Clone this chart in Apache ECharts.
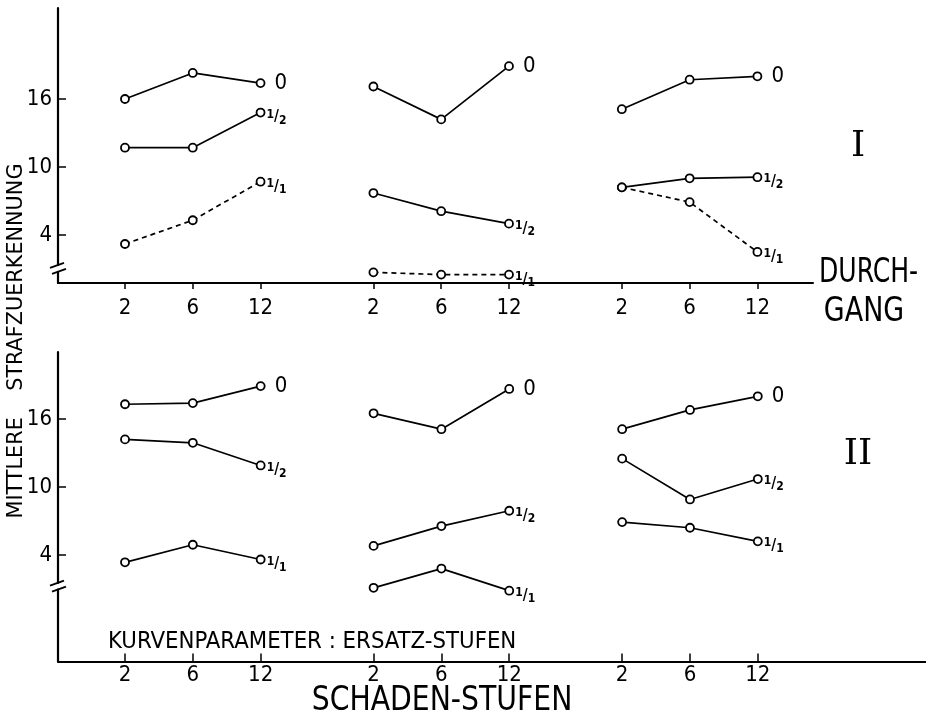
<!DOCTYPE html>
<html>
<head>
<meta charset="utf-8">
<script src="https://cdn.jsdelivr.net/npm/echarts@6/dist/echarts.min.js"></script>
<style>
html,body{margin:0;padding:0;background:#fff;}
#c{width:926px;height:723px;}
</style>
</head>
<body>
<div id="c"></div>
<script>
// ---- data ----
const schadenStufen = ['2', '6', '12'];          // x tick labels per group
const yTickValues = [4, 10, 16];                  // y tick labels
const curveNames = ['0', '1/2', '1/1'];           // Kurvenparameter: Ersatz-Stufen

// Durchgang I : one array per curve, one inner array per group (values at 2, 6, 12)
const durchgangI_0  = [[16.0, 18.3, 17.4], [17.1, 14.2, 18.9], [15.1, 17.7, 18.0]];
const durchgangI_12 = [[11.7, 11.7, 14.8], [7.7, 6.1, 5.0], [8.2, 9.0, 9.1]];
const durchgangI_11 = [[3.2, 5.3, 8.7], [0.7, 0.5, 0.5], [8.2, 6.9, 2.5]];

// Durchgang II
const durchgangII_0  = [[17.3, 17.4, 18.9], [16.5, 15.1, 18.65], [15.1, 16.8, 18.0]];
const durchgangII_12 = [[14.2, 13.9, 11.9], [4.8, 6.55, 7.9], [12.5, 8.9, 10.7]];
const durchgangII_11 = [[3.35, 4.9, 3.6], [1.1, 2.8, 0.85], [6.9, 6.4, 5.2]];

// ---- layout helpers ----
const GROUP_STEP = 3.665;
const FONT = "'DejaVu Sans Condensed', 'Liberation Sans Narrow', 'DejaVu Sans', sans-serif";
function xPos(g, i) { return g * GROUP_STEP + i; }
const xTickPos = [], xTickLab = {};
for (let g = 0; g < 3; g++) for (let i = 0; i < 3; i++) {
  const p = xPos(g, i); xTickPos.push(p); xTickLab[p.toFixed(3)] = schadenStufen[i];
}
function xLabel(v) { return xTickLab[Number(v).toFixed(3)] || ''; }

const fracRich = {
  n: { fontSize: 12, fontFamily: FONT, color: '#000', verticalAlign: 'top', lineHeight: 18, fontWeight: 'bold' },
  s: { fontSize: 15, fontFamily: FONT, color: '#000', lineHeight: 18, fontWeight: 'bold' },
  d: { fontSize: 12, fontFamily: FONT, color: '#000', verticalAlign: 'bottom', lineHeight: 18, fontWeight: 'bold' }
};
function curveLabelText(name) {
  if (name === '0') return '{z|0}';
  const parts = name.split('/');
  return '{n|' + parts[0] + '}{s|/}{d|' + parts[1] + '}';
}

const series = [];
function addPanel(panel, curves, dashedIdx) {
  curves.forEach((curve, ci) => {
    curve.forEach((vals, g) => {
      const data = vals.map((v, i) => [xPos(g, i), v]);
      const isZero = ci === 0;
      series.push({
        type: 'line',
        xAxisIndex: panel, yAxisIndex: panel,
        data: data,
        symbol: 'circle', symbolSize: 8,
        itemStyle: { color: '#fff', borderColor: '#000', borderWidth: 1.8 },
        lineStyle: { color: '#000', width: 1.7, type: (ci === dashedIdx) ? [5, 4] : 'solid' },
        z: 3,
        animation: false,
        silent: true,
        endLabel: {
          show: true,
          formatter: () => curveLabelText(curveNames[ci]),
          distance: isZero ? 14 : 6,
          offset: isZero ? [0, 0] : [0, 5],
          rich: Object.assign({ z: { fontSize: 22, fontFamily: FONT, color: '#000' } }, fracRich)
        }
      });
    });
  });
}
addPanel(0, [durchgangI_0, durchgangI_12, durchgangI_11], 2);
addPanel(1, [durchgangII_0, durchgangII_12, durchgangII_11], -1);

const axisTxt = { fontSize: 22, fontFamily: FONT, color: '#000' };

const option = {
  backgroundColor: '#fff',
  animation: false,
  grid: [
    { left: 58, top: 8, width: 755, height: 275 },
    { left: 58, top: 352, width: 868, height: 309.5 }
  ],
  xAxis: [
    { type: 'value', gridIndex: 0, min: -0.988, max: 10.15,
      axisLine: { show: true, onZero: false, lineStyle: { color: '#000', width: 2 } },
      axisTick: { show: true, inside: false, length: 6, customValues: xTickPos, lineStyle: { color: '#000', width: 1.5 } },
      axisLabel: Object.assign({ customValues: xTickPos, formatter: xLabel, margin: 14 }, axisTxt),
      splitLine: { show: false } },
    { type: 'value', gridIndex: 1, min: -0.988, max: 11.81,
      axisLine: { show: true, onZero: false, lineStyle: { color: '#000', width: 2 } },
      axisTick: { show: true, inside: true, length: 8, customValues: xTickPos, lineStyle: { color: '#000', width: 1.5 } },
      axisLabel: Object.assign({ customValues: xTickPos, formatter: xLabel, margin: 3 }, axisTxt),
      splitLine: { show: false } }
  ],
  yAxis: [
    { type: 'value', gridIndex: 0, min: -0.24, max: 24.03,
      axisLine: { show: true, onZero: false, lineStyle: { color: '#000', width: 2.2 } },
      axisTick: { show: true, inside: true, length: 8, customValues: yTickValues, lineStyle: { color: '#000', width: 1.5 } },
      axisLabel: Object.assign({ customValues: yTickValues, margin: 6 }, axisTxt),
      splitLine: { show: false } },
    { type: 'value', gridIndex: 1, min: -5.4, max: 21.91,
      axisLine: { show: true, onZero: false, lineStyle: { color: '#000', width: 2.2 } },
      axisTick: { show: true, inside: true, length: 8, customValues: yTickValues, lineStyle: { color: '#000', width: 1.5 } },
      axisLabel: Object.assign({ customValues: yTickValues, margin: 6 }, axisTxt),
      splitLine: { show: false } }
  ],
  series: series
};

const chart = echarts.init(document.getElementById('c'), null, { renderer: 'canvas' });
chart.setOption(option);

// ---- annotations ----
function breakMark(panel, yVal) {
  const p = chart.convertToPixel({ gridIndex: panel }, [-0.988, yVal]);
  const x = p[0], y = p[1];
  return [
    { type: 'rect', shape: { x: x - 3, y: y - 3, width: 6, height: 5 }, style: { fill: '#fff' }, z: 10 },
    { type: 'line', shape: { x1: x - 8, y1: y - 1, x2: x + 6, y2: y - 6 }, style: { stroke: '#000', lineWidth: 1.8 }, z: 11 },
    { type: 'line', shape: { x1: x - 6, y1: y + 5, x2: x + 8, y2: y }, style: { stroke: '#000', lineWidth: 1.8 }, z: 11 }
  ];
}
function txt(text, x, y, size, align, sx, extra) {
  return Object.assign({ type: 'text', x: x, y: y, scaleX: sx || 1,
    style: { text: text, font: size + 'px ' + FONT, fill: '#000', textAlign: align, textVerticalAlign: 'middle' } }, extra || {});
}
const graphics = [].concat(
  breakMark(0, 1.0),
  breakMark(1, 1.2),
  [
    txt('MITTLERE    STRAFZUERKENNUNG', 17, 341, 21, 'center', 1.1, { rotation: Math.PI / 2 }),
    txt('DURCH-', 819, 273, 34, 'left', 0.82),
    txt('GANG', 864, 312, 34, 'center', 0.88),
    { type: 'text', x: 858, y: 147,
      style: { text: 'I', font: '36px "DejaVu Serif", "Liberation Serif", serif', fill: '#000', textAlign: 'center', textVerticalAlign: 'middle' } },
    { type: 'text', x: 858, y: 455,
      style: { text: 'II', font: '36px "DejaVu Serif", "Liberation Serif", serif', fill: '#000', textAlign: 'center', textVerticalAlign: 'middle' } },
    txt('KURVENPARAMETER : ERSATZ-STUFEN', 108, 642, 23, 'left', 1.03),
    txt('SCHADEN-STUFEN', 442, 701, 34, 'center', 0.925)
  ]
);
chart.setOption({ graphic: graphics });
</script>
</body>
</html>
